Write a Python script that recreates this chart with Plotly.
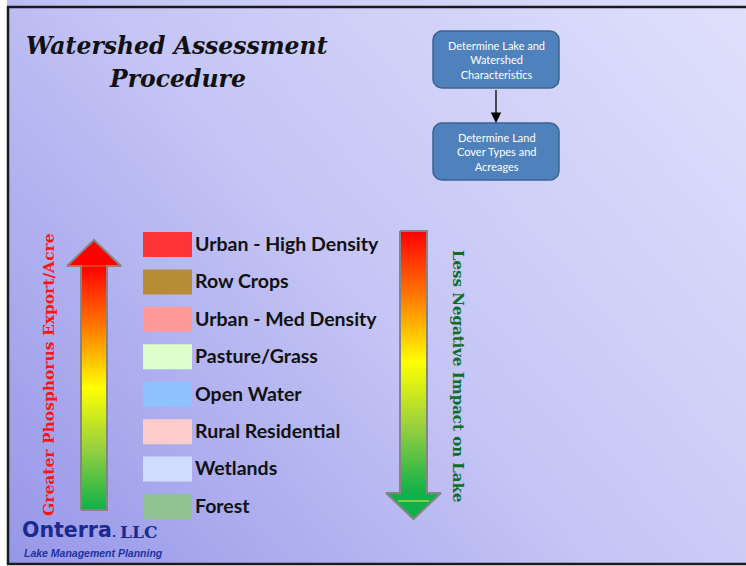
import numpy as np
import plotly.graph_objects as go

W, H = 746, 566

# legend of land cover types (highest phosphorus export first)
land_cover = ["Urban - High Density", "Row Crops", "Urban - Med Density", "Pasture/Grass",
              "Open Water", "Rural Residential", "Wetlands", "Forest"]
cover_colors = ["#ff3535", "#b68c36", "#ff9a9a", "#dcffcc",
                "#8fc0ff", "#ffcccc", "#cfdcff", "#8fc290"]

# flowchart steps
steps = ["Determine Lake and<br>Watershed<br>Characteristics",
         "Determine Land<br>Cover Types and<br>Acreages"]

title_lines = ["Watershed Assessment", "Procedure"]
left_label = "Greater Phosphorus Export/Acre"
right_label = "Less Negative Impact on Lake"

shaft_scale = [[0, "#ff0000"], [0.25, "#ff7a00"], [0.5, "#ffff00"], [0.75, "#96d040"], [1, "#10b048"]]

fig = go.Figure()

# slide background gradient
gx = np.linspace(0, W, 30)
gy = np.linspace(0, H, 30)
gz = 0.6 * (gx[None, :] / W) + 0.4 * (1 - gy[:, None] / H)
fig.add_trace(go.Heatmap(x=gx, y=gy, z=gz, zsmooth="best", showscale=False, hoverinfo="skip",
                         zmin=0, zmax=1,
                         colorscale=[[0, "rgb(150,150,232)"], [0.5, "rgb(198,198,246)"],
                                     [1, "rgb(224,224,252)"]]))

# legend swatches and labels
row_y = [244.5 + i * 37.43 for i in range(len(land_cover))]
fig.add_trace(go.Bar(y=row_y, x=[49] * len(land_cover), base=143, width=25, orientation="h",
                     marker=dict(color=cover_colors, line=dict(width=0)), hoverinfo="skip"))
fig.add_trace(go.Scatter(x=[195] * len(land_cover), y=[v + 1.5 for v in row_y], mode="text", text=land_cover,
                         textposition="middle right",
                         textfont=dict(family="Lato", size=19.5, color="#111111", weight="bold"),
                         hoverinfo="skip"))


def add_arrow(x0, x1, hx0, hx1, top, neck, bottom, up):
    xm = (hx0 + hx1) / 2
    if up:
        shaft_top, shaft_bot = neck, bottom
        head = [(hx0, neck), (xm, top), (hx1, neck)]
        head_color = "#ff0000"
        outline = [(x0, bottom), (x0, neck), (hx0, neck), (xm, top), (hx1, neck), (x1, neck), (x1, bottom), (x0, bottom)]
        g0, g1 = neck, bottom
    else:
        shaft_top, shaft_bot = top, neck
        head = [(hx0, neck), (xm, bottom), (hx1, neck)]
        head_color = "#12b048"
        outline = [(x0, top), (x0, neck), (hx0, neck), (xm, bottom), (hx1, neck), (x1, neck), (x1, top), (x0, top)]
        g0, g1 = top, neck
    fig.add_trace(go.Scatter(x=[x0, x1, x1, x0, x0], y=[shaft_top, shaft_top, shaft_bot, shaft_bot, shaft_top],
                             fill="toself", mode="lines", line=dict(width=0), hoverinfo="skip",
                             fillgradient=dict(type="vertical", colorscale=shaft_scale, start=g0, stop=g1)))
    fig.add_trace(go.Scatter(x=[p[0] for p in head] + [head[0][0]], y=[p[1] for p in head] + [head[0][1]],
                             fill="toself", fillcolor=head_color, mode="lines", line=dict(width=0),
                             hoverinfo="skip"))
    if up:
        fig.add_shape(type="line", x0=hx0 + 3, x1=hx1 - 3, y0=neck, y1=neck, line=dict(color="#e07020", width=1))
    else:
        fig.add_shape(type="line", x0=hx0 + 12, x1=hx1 - 12, y0=neck + 8, y1=neck + 8,
                      line=dict(color="#a8d848", width=1.5))
    fig.add_trace(go.Scatter(x=[p[0] for p in outline], y=[p[1] for p in outline], mode="lines",
                             line=dict(color="#858585", width=2), hoverinfo="skip"))


add_arrow(81, 107, 67, 121, 240, 266, 510, True)
add_arrow(400, 427, 386, 441, 231, 493, 519, False)


def rounded_box(x0, y0, x1, y1, r):
    t = np.linspace(0, np.pi / 2, 8)
    xs, ys = [], []
    for cx, cy, a in [(x1 - r, y0 + r, -np.pi / 2), (x1 - r, y1 - r, 0), (x0 + r, y1 - r, np.pi / 2),
                      (x0 + r, y0 + r, np.pi)]:
        xs += list(cx + r * np.cos(a + t))
        ys += list(cy + r * np.sin(a + t))
    return xs + [xs[0]], ys + [ys[0]]


annotations = []
box_top = [31, 123]
for i, step in enumerate(steps):
    bx, by = rounded_box(433, box_top[i], 559, box_top[i] + 57, 9)
    fig.add_trace(go.Scatter(x=bx, y=by, fill="toself", fillcolor="#4f81bd", mode="lines",
                             line=dict(color="#3a6391", width=1.5), hoverinfo="skip"))
    annotations.append(dict(x=496, y=box_top[i] + 28.5, text=step, showarrow=False,
                            font=dict(family="Lato", size=11, color="white")))

# connector between boxes
annotations.append(dict(x=496, y=123, ax=496, ay=88.5, axref="x", ayref="y", xref="x", yref="y",
                        text="", showarrow=True, arrowhead=2, arrowsize=1.6, arrowwidth=1.3,
                        arrowcolor="#000000", standoff=0, startstandoff=0))

# title, two lines set a little further apart than the default line height
for i, line in enumerate(title_lines):
    annotations.append(dict(x=177, y=46 + i * 33, text="<b><i>" + line + "</i></b>", showarrow=False,
                            font=dict(family="DejaVu Serif", size=23.5, color="#111111")))

# side labels
annotations.append(dict(x=48, y=375, text="<b>" + left_label + "</b>", textangle=-90, showarrow=False,
                        font=dict(family="DejaVu Serif", size=15.5, color="#ff1414")))
annotations.append(dict(x=458, y=376, text="<b>" + right_label + "</b>", textangle=90, showarrow=False,
                        font=dict(family="DejaVu Serif", size=15, color="#0e6e28")))

# logo
annotations.append(dict(x=20, y=530, text="<b>Onterra</b>", showarrow=False, xanchor="left",
                        font=dict(family="DejaVu Sans", size=20.5, color="#1b2a8e")))
annotations.append(dict(x=110, y=533, text="<b>.</b>", showarrow=False, xanchor="left",
                        font=dict(family="DejaVu Sans", size=11, color="#1b2a8e")))
annotations.append(dict(x=118, y=531.5, text="<b>LLC</b>", showarrow=False, xanchor="left",
                        font=dict(family="DejaVu Serif", size=17, color="#1b2a8e")))
annotations.append(dict(x=22, y=553, text="<b><i>Lake Management Planning</i></b>", showarrow=False,
                        xanchor="left", font=dict(family="Liberation Sans", size=10.5, color="#1e32a0")))

shapes = [
    # footer rule
    dict(type="line", x0=176, x1=744, y0=548, y1=548, line=dict(color="#15239a", width=3)),
    # white page outside the slide
    dict(type="rect", x0=-2, x1=W + 2, y0=-2, y1=6, fillcolor="white", line=dict(width=0)),
    dict(type="rect", x0=-2, x1=7, y0=-2, y1=H + 2, fillcolor="white", line=dict(width=0)),
    dict(type="rect", x0=-2, x1=W + 2, y0=565, y1=H + 2, fillcolor="white", line=dict(width=0)),
    # slide frame
    dict(type="line", x0=7, x1=W + 2, y0=7, y1=7, line=dict(color="#1a1a1a", width=2.5)),
    dict(type="line", x0=8, x1=8, y0=6, y1=565, line=dict(color="#1a1a1a", width=2.5)),
    dict(type="line", x0=7, x1=W + 2, y0=564, y1=564, line=dict(color="#1a1a1a", width=2.5)),
]

fig.update_layout(width=W, height=H, margin=dict(l=0, r=0, t=0, b=0),
                  paper_bgcolor="white", plot_bgcolor="white", showlegend=False,
                  xaxis=dict(range=[0, W], visible=False, fixedrange=True),
                  yaxis=dict(range=[H, 0], visible=False, fixedrange=True),
                  shapes=shapes, annotations=annotations)

# drop the browser's default body margin so the figure sits at the page corner
fig.write_html("out.html", config={"displayModeBar": False},
               post_script="document.body.style.margin='0';document.body.style.overflow='hidden';")
